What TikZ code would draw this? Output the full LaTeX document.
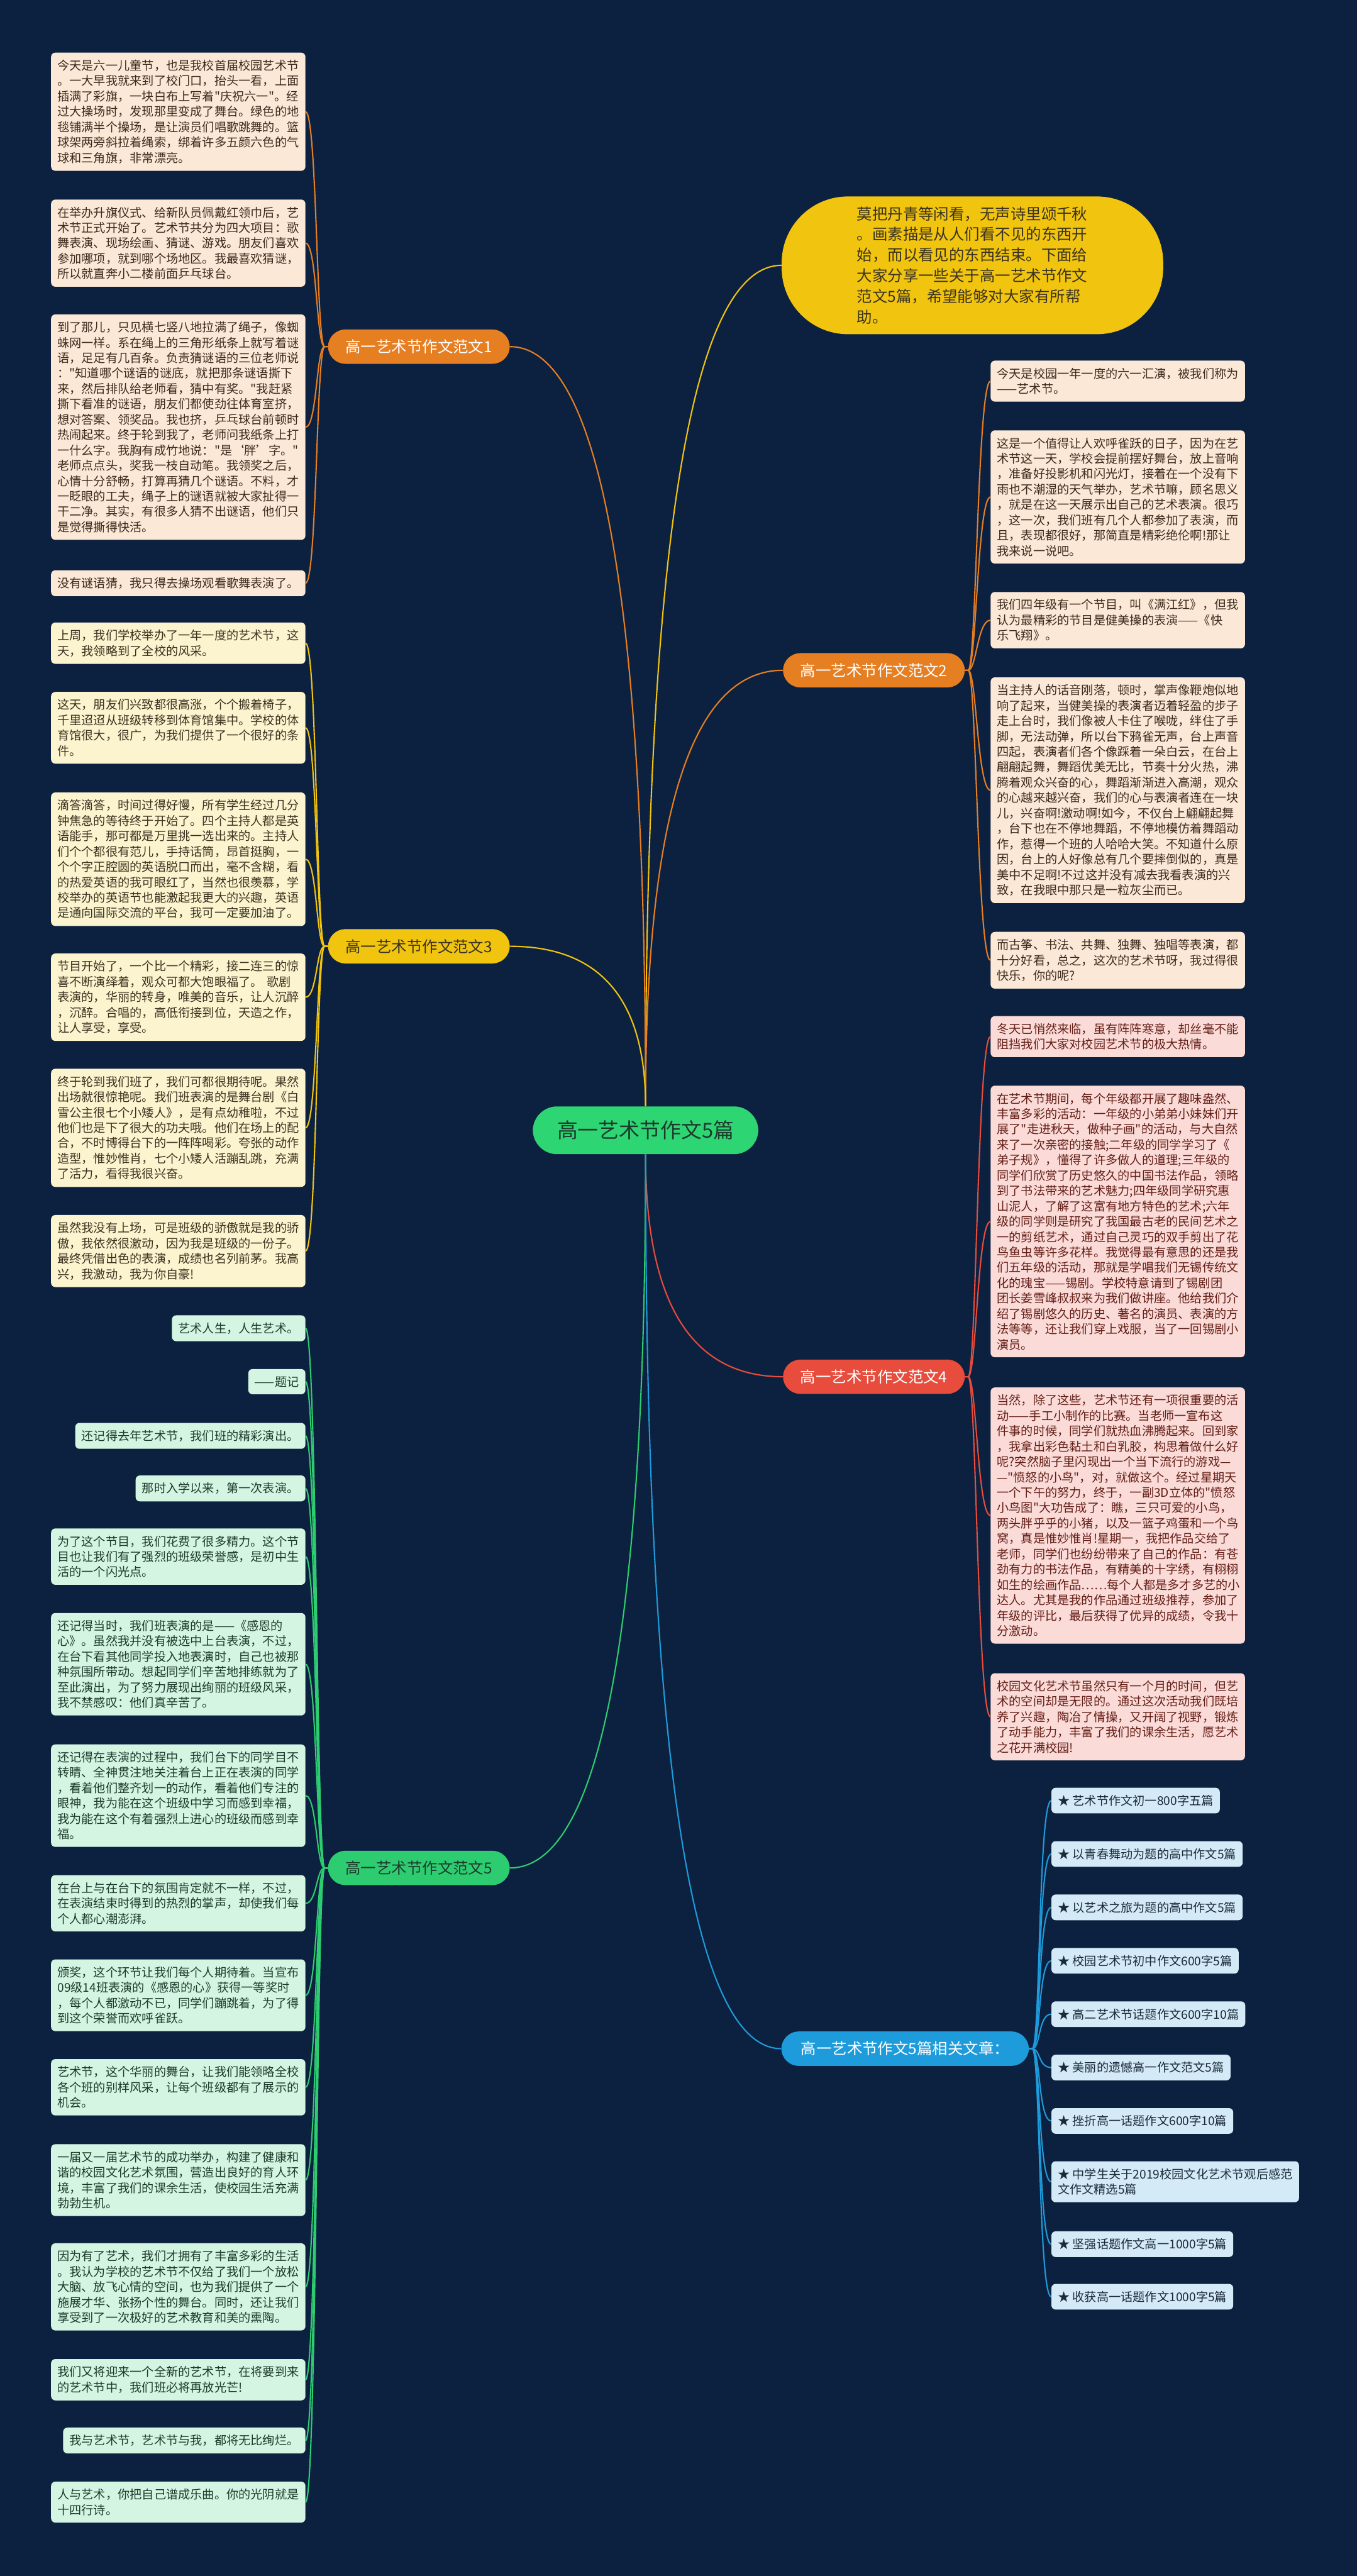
\documentclass[tikz,border=0pt]{standalone}
\usepackage{fontspec}
\setmainfont{Noto Sans CJK SC}[Ligatures=TeXOff]
\usetikzlibrary{calc}

\definecolor{bgnavy}{HTML}{0C213F}
\definecolor{cRoot}{HTML}{2ED573}
\definecolor{cOrange}{HTML}{E67E22}
\definecolor{cYellow}{HTML}{F1C40F}
\definecolor{cRed}{HTML}{E74C3C}
\definecolor{cGreen}{HTML}{2ECC71}
\definecolor{cBlue}{HTML}{1E9BDB}
\definecolor{fillO}{HTML}{FCE8D6}
\definecolor{fillY}{HTML}{FCF3CF}
\definecolor{fillR}{HTML}{FADBD8}
\definecolor{fillG}{HTML}{D5F5E3}
\definecolor{fillB}{HTML}{D4EAF7}
\definecolor{inkO}{HTML}{3B2A1E}
\definecolor{inkY}{HTML}{3B3320}
\definecolor{inkR}{HTML}{641E16}
\definecolor{inkG}{HTML}{1D3B2C}
\definecolor{inkB}{HTML}{1B2A3A}
\definecolor{inkRoot}{HTML}{1C3A2C}

% main curve from the root to a branch
\newcommand{\trunk}[3]{\draw[#3] (#1) .. controls ($(#1)!0.667!(#1 |- #2)$) and ($(#2)!0.667!(#1 |- #2)$) .. (#2);}
% branch to leaf, left and right
\newcommand{\twigL}[3]{\draw[#3] (#1.west) -- ++(-2,0) .. controls ($(#1.west)+(-7,0)$) and ($(#2.east)+(7,0)$) .. (#2.east);}
\newcommand{\twigR}[3]{\draw[#3] (#1.east) -- ++(2,0) .. controls ($(#1.east)+(7,0)$) and ($(#2.west)+(-8,0)$) .. (#2.west);}

\begin{document}
\begin{tikzpicture}[x=3.1pt, y=-3.1pt,
    card/.style={font=\fontsize{22.8}{29}\selectfont, align=left, inner xsep=12pt, inner ysep=13.6pt, rounded corners=8pt},
    wide/.style={text width=456pt},
    leafo/.style={card, fill=fillO, text=inkO},
    leafy/.style={card, fill=fillY, text=inkY},
    leafr/.style={card, fill=fillR, text=inkR},
    leafg/.style={card, fill=fillG, text=inkG},
    leafb/.style={card, fill=fillB, text=inkB},
    branch/.style={font=\fontsize{29}{35}\selectfont, inner xsep=33pt, inner ysep=19pt, rounded corners=33pt},
    lineo/.style={draw=cOrange, line width=2.5pt},
    liney/.style={draw=cYellow, line width=2.5pt},
    liner/.style={draw=cRed, line width=2.5pt},
    lineg/.style={draw=cGreen, line width=2.5pt},
    lineb/.style={draw=cBlue, line width=2.5pt}]

\useasboundingbox (0,0) rectangle (826,1568);
\fill[bgnavy] (0,0) rectangle (826,1568);

\node[font=\fontsize{39}{45}\selectfont, fill=cRoot, text=inkRoot, inner xsep=46pt, inner ysep=27pt, rounded corners=46pt] (root) at (393,688) {高一艺术节作文5篇};

\node[font=\fontsize{29}{39}\selectfont, fill=cYellow, text=inkY, text width=436pt, align=left, inner xsep=142pt, inner ysep=19pt, rounded corners=125pt] (intro) at (592,161.5) {莫把丹青等闲看，无声诗里颂千秋\\。画素描是从人们看不见的东西开\\始，而以看见的东西结束。下面给\\大家分享一些关于高一艺术节作文\\范文5篇，希望能够对大家有所帮\\助。};

\node[branch, fill=cOrange, text=white] (b1) at (255,211) {高一艺术节作文范文1};
\node[branch, fill=cOrange, text=white] (b2) at (532,408) {高一艺术节作文范文2};
\node[branch, fill=cYellow, text=inkY] (b3) at (255,576) {高一艺术节作文范文3};
\node[branch, fill=cRed, text=white] (b4) at (532,838) {高一艺术节作文范文4};
\node[branch, fill=cGreen, text=inkG] (b5) at (255,1137) {高一艺术节作文范文5};
\node[branch, fill=cBlue, text=white, inner xsep=37pt] (rel) at (551,1247) {高一艺术节作文5篇相关文章：};

\trunk{root.north}{intro.west}{liney}
\trunk{root.north}{b1.east}{lineo}
\trunk{root.north}{b2.west}{lineo}
\trunk{root.north}{b3.east}{liney}
\trunk{root.south}{b4.west}{liner}
\trunk{root.south}{b5.east}{lineg}
\trunk{root.south}{rel.west}{lineb}

% essay 1
\node[leafo, wide, anchor=east] (o1a) at (186,68) {今天是六一儿童节，也是我校首届校园艺术节\\。一大早我就来到了校门口，抬头一看，上面\\插满了彩旗，一块白布上写着"庆祝六一"。经\\过大操场时，发现那里变成了舞台。绿色的地\\毯铺满半个操场，是让演员们唱歌跳舞的。篮\\球架两旁斜拉着绳索，绑着许多五颜六色的气\\球和三角旗，非常漂亮。};
\node[leafo, wide, anchor=east] (o1b) at (186,148) {在举办升旗仪式、给新队员佩戴红领巾后，艺\\术节正式开始了。艺术节共分为四大项目：歌\\舞表演、现场绘画、猜谜、游戏。朋友们喜欢\\参加哪项，就到哪个场地区。我最喜欢猜谜，\\所以就直奔小二楼前面乒乓球台。};
\node[leafo, wide, anchor=east] (o1c) at (186,260) {到了那儿，只见横七竖八地拉满了绳子，像蜘\\蛛网一样。系在绳上的三角形纸条上就写着谜\\语，足足有几百条。负责猜谜语的三位老师说\\："知道哪个谜语的谜底，就把那条谜语撕下\\来，然后排队给老师看，猜中有奖。"我赶紧\\撕下看准的谜语，朋友们都使劲往体育室挤，\\想对答案、领奖品。我也挤，乒乓球台前顿时\\热闹起来。终于轮到我了，老师问我纸条上打\\一什么字。我胸有成竹地说："是‘胖’字。"\\老师点点头，奖我一枝自动笔。我领奖之后，\\心情十分舒畅，打算再猜几个谜语。不料，才\\一眨眼的工夫，绳子上的谜语就被大家扯得一\\干二净。其实，有很多人猜不出谜语，他们只\\是觉得撕得快活。};
\node[leafo, wide, anchor=east] (o1d) at (186,355) {没有谜语猜，我只得去操场观看歌舞表演了。};
\twigL{b1}{o1a}{lineo}
\twigL{b1}{o1b}{lineo}
\twigL{b1}{o1c}{lineo}
\twigL{b1}{o1d}{lineo}

% essay 2
\node[leafo, wide, anchor=west] (o2a) at (603,232) {今天是校园一年一度的六一汇演，被我们称为\\——艺术节。};
\node[leafo, wide, anchor=west] (o2b) at (603,302.5) {这是一个值得让人欢呼雀跃的日子，因为在艺\\术节这一天，学校会提前摆好舞台，放上音响\\，准备好投影机和闪光灯，接着在一个没有下\\雨也不潮湿的天气举办，艺术节嘛，顾名思义\\，就是在这一天展示出自己的艺术表演。很巧\\，这一次，我们班有几个人都参加了表演，而\\且，表现都很好，那简直是精彩绝伦啊!那让\\我来说一说吧。};
\node[leafo, wide, anchor=west] (o2c) at (603,377.5) {我们四年级有一个节目，叫《满江红》，但我\\认为最精彩的节目是健美操的表演——《快\\乐飞翔》。};
\node[leafo, wide, anchor=west] (o2d) at (603,481) {当主持人的话音刚落，顿时，掌声像鞭炮似地\\响了起来，当健美操的表演者迈着轻盈的步子\\走上台时，我们像被人卡住了喉咙，绊住了手\\脚，无法动弹，所以台下鸦雀无声，台上声音\\四起，表演者们各个像踩着一朵白云，在台上\\翩翩起舞，舞蹈优美无比，节奏十分火热，沸\\腾着观众兴奋的心，舞蹈渐渐进入高潮，观众\\的心越来越兴奋，我们的心与表演者连在一块\\儿，兴奋啊!激动啊!如今，不仅台上翩翩起舞\\，台下也在不停地舞蹈，不停地模仿着舞蹈动\\作，惹得一个班的人哈哈大笑。不知道什么原\\因，台上的人好像总有几个要摔倒似的，真是\\美中不足啊!不过这并没有减去我看表演的兴\\致，在我眼中那只是一粒灰尘而已。};
\node[leafo, wide, anchor=west] (o2e) at (603,584.5) {而古筝、书法、共舞、独舞、独唱等表演，都\\十分好看，总之，这次的艺术节呀，我过得很\\快乐，你的呢?};
\twigR{b2}{o2a}{lineo}
\twigR{b2}{o2b}{lineo}
\twigR{b2}{o2c}{lineo}
\twigR{b2}{o2d}{lineo}
\twigR{b2}{o2e}{lineo}

% essay 3
\node[leafy, wide, anchor=east] (y3a) at (186,391.5) {上周，我们学校举办了一年一度的艺术节，这\\天，我领略到了全校的风采。};
\node[leafy, wide, anchor=east] (y3b) at (186,443) {这天，朋友们兴致都很高涨，个个搬着椅子，\\千里迢迢从班级转移到体育馆集中。学校的体\\育馆很大，很广，为我们提供了一个很好的条\\件。};
\node[leafy, wide, anchor=east] (y3c) at (186,523) {滴答滴答，时间过得好慢，所有学生经过几分\\钟焦急的等待终于开始了。四个主持人都是英\\语能手，那可都是万里挑一选出来的。主持人\\们个个都很有范儿，手持话筒，昂首挺胸，一\\个个字正腔圆的英语脱口而出，毫不含糊，看\\的热爱英语的我可眼红了，当然也很羡慕，学\\校举办的英语节也能激起我更大的兴趣，英语\\是通向国际交流的平台，我可一定要加油了。};
\node[leafy, wide, anchor=east] (y3d) at (186,607) {节目开始了，一个比一个精彩，接二连三的惊\\喜不断演绎着，观众可都大饱眼福了。 歌剧\\表演的，华丽的转身，唯美的音乐，让人沉醉\\，沉醉。合唱的，高低衔接到位，天造之作，\\让人享受，享受。};
\node[leafy, wide, anchor=east] (y3e) at (186,686.5) {终于轮到我们班了，我们可都很期待呢。果然\\出场就很惊艳呢。我们班表演的是舞台剧《白\\雪公主很七个小矮人》，是有点幼稚啦，不过\\他们也是下了很大的功夫哦。他们在场上的配\\合，不时博得台下的一阵阵喝彩。夸张的动作\\造型，惟妙惟肖，七个小矮人活蹦乱跳，充满\\了活力，看得我很兴奋。};
\node[leafy, wide, anchor=east] (y3f) at (186,761.5) {虽然我没有上场，可是班级的骄傲就是我的骄\\傲，我依然很激动，因为我是班级的一份子。\\最终凭借出色的表演，成绩也名列前茅。我高\\兴，我激动，我为你自豪!};
\twigL{b3}{y3a}{liney}
\twigL{b3}{y3b}{liney}
\twigL{b3}{y3c}{liney}
\twigL{b3}{y3d}{liney}
\twigL{b3}{y3e}{liney}
\twigL{b3}{y3f}{liney}

% essay 4
\node[leafr, wide, anchor=west] (r4a) at (603,631) {冬天已悄然来临，虽有阵阵寒意，却丝毫不能\\阻挡我们大家对校园艺术节的极大热情。};
\node[leafr, wide, anchor=west] (r4b) at (603,743.5) {在艺术节期间，每个年级都开展了趣味盎然、\\丰富多彩的活动：一年级的小弟弟小妹妹们开\\展了"走进秋天，做种子画"的活动，与大自然\\来了一次亲密的接触;二年级的同学学习了《\\弟子规》，懂得了许多做人的道理;三年级的\\同学们欣赏了历史悠久的中国书法作品，领略\\到了书法带来的艺术魅力;四年级同学研究惠\\山泥人，了解了这富有地方特色的艺术;六年\\级的同学则是研究了我国最古老的民间艺术之\\一的剪纸艺术，通过自己灵巧的双手剪出了花\\鸟鱼虫等许多花样。我觉得最有意思的还是我\\们五年级的活动，那就是学唱我们无锡传统文\\化的瑰宝——锡剧。学校特意请到了锡剧团\\团长姜雪峰叔叔来为我们做讲座。他给我们介\\绍了锡剧悠久的历史、著名的演员、表演的方\\法等等，还让我们穿上戏服，当了一回锡剧小\\演员。};
\node[leafr, wide, anchor=west] (r4c) at (603,922.5) {当然，除了这些，艺术节还有一项很重要的活\\动——手工小制作的比赛。当老师一宣布这\\件事的时候，同学们就热血沸腾起来。回到家\\，我拿出彩色黏土和白乳胶，构思着做什么好\\呢?突然脑子里闪现出一个当下流行的游戏—\\—"愤怒的小鸟"，对，就做这个。经过星期天\\一个下午的努力，终于，一副3D立体的"愤怒\\小鸟图"大功告成了：瞧，三只可爱的小鸟，\\两头胖乎乎的小猪，以及一篮子鸡蛋和一个鸟\\窝，真是惟妙惟肖!星期一，我把作品交给了\\老师，同学们也纷纷带来了自己的作品：有苍\\劲有力的书法作品，有精美的十字绣，有栩栩\\如生的绘画作品……每个人都是多才多艺的小\\达人。尤其是我的作品通过班级推荐，参加了\\年级的评比，最后获得了优异的成绩，令我十\\分激动。};
\node[leafr, wide, anchor=west] (r4d) at (603,1045) {校园文化艺术节虽然只有一个月的时间，但艺\\术的空间却是无限的。通过这次活动我们既培\\养了兴趣，陶冶了情操，又开阔了视野，锻炼\\了动手能力，丰富了我们的课余生活，愿艺术\\之花开满校园!};
\twigR{b4}{r4a}{liner}
\twigR{b4}{r4b}{liner}
\twigR{b4}{r4c}{liner}
\twigR{b4}{r4d}{liner}

% essay 5
\node[leafg, anchor=east] (g5a) at (186,808.5) {艺术人生，人生艺术。};
\node[leafg, anchor=east] (g5b) at (186,841) {——题记};
\node[leafg, anchor=east] (g5c) at (186,874) {还记得去年艺术节，我们班的精彩演出。};
\node[leafg, anchor=east] (g5d) at (186,906) {那时入学以来，第一次表演。};
\node[leafg, wide, anchor=east] (g5e) at (186,947.5) {为了这个节目，我们花费了很多精力。这个节\\目也让我们有了强烈的班级荣誉感，是初中生\\活的一个闪光点。};
\node[leafg, wide, anchor=east] (g5f) at (186,1013) {还记得当时，我们班表演的是——《感恩的\\心》。虽然我并没有被选中上台表演，不过，\\在台下看其他同学投入地表演时，自己也被那\\种氛围所带动。想起同学们辛苦地排练就为了\\至此演出，为了努力展现出绚丽的班级风采，\\我不禁感叹：他们真辛苦了。};
\node[leafg, wide, anchor=east] (g5g) at (186,1093) {还记得在表演的过程中，我们台下的同学目不\\转睛、全神贯注地关注着台上正在表演的同学\\，看着他们整齐划一的动作，看着他们专注的\\眼神，我为能在这个班级中学习而感到幸福，\\我为能在这个有着强烈上进心的班级而感到幸\\福。};
\node[leafg, wide, anchor=east] (g5h) at (186,1158.5) {在台上与在台下的氛围肯定就不一样，不过，\\在表演结束时得到的热烈的掌声，却使我们每\\个人都心潮澎湃。};
\node[leafg, wide, anchor=east] (g5i) at (186,1214.5) {颁奖，这个环节让我们每个人期待着。当宣布\\09级14班表演的《感恩的心》获得一等奖时\\，每个人都激动不已，同学们蹦跳着，为了得\\到这个荣誉而欢呼雀跃。};
\node[leafg, wide, anchor=east] (g5j) at (186,1270.5) {艺术节，这个华丽的舞台，让我们能领略全校\\各个班的别样风采，让每个班级都有了展示的\\机会。};
\node[leafg, wide, anchor=east] (g5k) at (186,1327) {一届又一届艺术节的成功举办，构建了健康和\\谐的校园文化艺术氛围，营造出良好的育人环\\境，丰富了我们的课余生活，使校园生活充满\\勃勃生机。};
\node[leafg, wide, anchor=east] (g5l) at (186,1392) {因为有了艺术，我们才拥有了丰富多彩的生活\\。我认为学校的艺术节不仅给了我们一个放松\\大脑、放飞心情的空间，也为我们提供了一个\\施展才华、张扬个性的舞台。同时，还让我们\\享受到了一次极好的艺术教育和美的熏陶。};
\node[leafg, wide, anchor=east] (g5m) at (186,1448.5) {我们又将迎来一个全新的艺术节，在将要到来\\的艺术节中，我们班必将再放光芒!};
\node[leafg, anchor=east] (g5n) at (186,1485.5) {我与艺术节，艺术节与我，都将无比绚烂。};
\node[leafg, wide, anchor=east] (g5o) at (186,1523) {人与艺术，你把自己谱成乐曲。你的光阴就是\\十四行诗。};
\twigL{b5}{g5a}{lineg}
\twigL{b5}{g5b}{lineg}
\twigL{b5}{g5c}{lineg}
\twigL{b5}{g5d}{lineg}
\twigL{b5}{g5e}{lineg}
\twigL{b5}{g5f}{lineg}
\twigL{b5}{g5g}{lineg}
\twigL{b5}{g5h}{lineg}
\twigL{b5}{g5i}{lineg}
\twigL{b5}{g5j}{lineg}
\twigL{b5}{g5k}{lineg}
\twigL{b5}{g5l}{lineg}
\twigL{b5}{g5m}{lineg}
\twigL{b5}{g5n}{lineg}
\twigL{b5}{g5o}{lineg}

% related articles
\node[leafb, anchor=west] (k1) at (640,1096) {★ 艺术节作文初一800字五篇};
\node[leafb, anchor=west] (k2) at (640,1128.5) {★ 以青春舞动为题的高中作文5篇};
\node[leafb, anchor=west] (k3) at (640,1161) {★ 以艺术之旅为题的高中作文5篇};
\node[leafb, anchor=west] (k4) at (640,1193.5) {★ 校园艺术节初中作文600字5篇};
\node[leafb, anchor=west] (k5) at (640,1226) {★ 高二艺术节话题作文600字10篇};
\node[leafb, anchor=west] (k6) at (640,1258.5) {★ 美丽的遗憾高一作文范文5篇};
\node[leafb, anchor=west] (k7) at (640,1291) {★ 挫折高一话题作文600字10篇};
\node[leafb, anchor=west] (k8) at (640,1328) {★ 中学生关于2019校园文化艺术节观后感范\\文作文精选5篇};
\node[leafb, anchor=west] (k9) at (640,1366) {★ 坚强话题作文高一1000字5篇};
\node[leafb, anchor=west] (k10) at (640,1398) {★ 收获高一话题作文1000字5篇};
\twigR{rel}{k1}{lineb}
\twigR{rel}{k2}{lineb}
\twigR{rel}{k3}{lineb}
\twigR{rel}{k4}{lineb}
\twigR{rel}{k5}{lineb}
\twigR{rel}{k6}{lineb}
\twigR{rel}{k7}{lineb}
\twigR{rel}{k8}{lineb}
\twigR{rel}{k9}{lineb}
\twigR{rel}{k10}{lineb}
\end{tikzpicture}
\end{document}
